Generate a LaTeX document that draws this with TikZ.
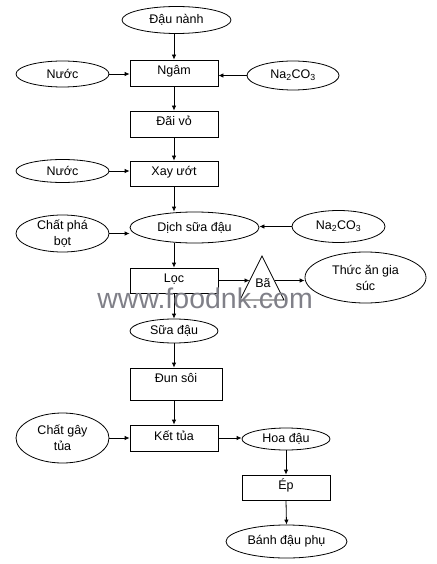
\documentclass[tikz,border=0pt]{standalone}
\usepackage{fontspec}
\setmainfont{Liberation Sans}
\usetikzlibrary{arrows.meta,shapes.geometric}
\definecolor{wmgray}{RGB}{128,128,136}
\begin{document}
\begin{tikzpicture}[x=1pt,y=-1pt,
  font=\fontsize{12.5}{16}\selectfont,
  line width=0.8pt,
  box/.style={draw, rectangle, minimum width=88pt, minimum height=26pt, inner sep=0pt, text height=9pt, text depth=5pt},
  oval/.style={draw, ellipse, inner xsep=0pt, inner ysep=-2pt, align=center},
  arr/.style={-{Latex[length=5pt,width=4.5pt]}}]
\useasboundingbox (0,0) rectangle (436,564);

% nodes
\node[oval, minimum width=109pt, minimum height=27pt] (dau) at (176.5,20) {Đậu nành};
\node[box] (ngam) at (174,73) {Ngâm};
\node[oval, minimum width=93pt, minimum height=26pt] (nuoc1) at (62.5,74) {Nước};
\node[oval, minimum width=92pt, minimum height=29pt] (na1) at (293,75.5) {Na\textsubscript{2}CO\textsubscript{3}};
\node[box] (dai) at (174,124) {Đãi vỏ};
\node[box, minimum height=25pt] (xay) at (174,173.5) {Xay ướt};
\node[oval, minimum width=93pt, minimum height=23pt] (nuoc2) at (62.5,171) {Nước};
\node[oval, minimum width=129pt, minimum height=31pt] (dich) at (194.5,227.5) {Dịch sữa đậu};
\node[oval, minimum width=93pt, minimum height=37pt] (pha) at (62.5,233.5) {Chất phá\\bọt};
\node[oval, minimum width=93pt, minimum height=32pt] (na2) at (338.5,226.5) {Na\textsubscript{2}CO\textsubscript{3}};
\node[box, minimum height=25pt] (loc) at (174,280.5) {Lọc};
\coordinate (bat) at (262,256);
\coordinate (bal) at (240,300);
\coordinate (bar) at (284,300);
\coordinate (bain) at (249.5,280.5);
\coordinate (baout) at (274.5,280.5);
\draw (bat) -- (bal) -- (bar) -- cycle;
\node (ba) at (263,283) {Bã};
\node[oval, minimum width=121pt, minimum height=51pt] (thuc) at (365.5,277.5) {Thức ăn gia\\súc};
\node[oval, minimum width=88pt, minimum height=24pt] (sua) at (174,331) {Sữa đậu};
\node[box, minimum width=92pt, minimum height=32pt, text depth=12pt] (dun) at (176,384) {Đun sôi};
\node[box] (ket) at (174,438) {Kết tủa};
\node[oval, minimum width=93pt, minimum height=50pt] (gay) at (62.5,438) {Chất gây\\tủa};
\node[oval, minimum width=88pt, minimum height=22pt] (hoa) at (286,439) {Hoa đậu};
\node[box, minimum height=25pt] (ep) at (286,487.5) {Ép};
\node[oval, minimum width=121pt, minimum height=33pt] (banh) at (286.5,541.5) {Bánh đậu phụ};

% connectors
\draw[arr] (dau.south -| ngam.north) -- (ngam.north);
\draw[arr] (nuoc1.east) -- (nuoc1.east -| ngam.west);
\draw[arr] (na1.west) -- (na1.west -| ngam.east);
\draw[arr] (ngam.south) -- (dai.north);
\draw[arr] (dai.south) -- (xay.north);
\draw[arr] (nuoc2.east) -- (nuoc2.east -| xay.west);
\draw[arr] (xay.south) -- (xay.south |- dich.north);
\draw[arr] (pha.east) -- (pha.east -| dich.west);
\draw[arr] (na2.west) -- (na2.west -| dich.east);
\draw[arr] (dich.south -| loc.north) -- (loc.north);
\draw[arr] (loc.east) -- (bain);
\draw[arr] (baout) -- (baout -| thuc.west);
\draw[arr] (loc.south) -- (sua.north);
\draw[arr] (sua.south) -- (sua.south |- dun.north);
\draw[arr] (dun.south -| ket.north) -- (ket.north);
\draw[arr] (gay.east) -- (ket.west);
\draw[arr] (ket.east) -- (ket.east -| hoa.west);
\draw[arr] (hoa.south) -- (ep.north);
\draw[arr] (ep.south) -- (banh.north);

% watermark
\node[text=wmgray, font=\fontsize{28.5}{30}\selectfont, anchor=base west, inner sep=0pt] (wm) at (97,308) {www.foodnk.com};
\end{tikzpicture}
\end{document}
